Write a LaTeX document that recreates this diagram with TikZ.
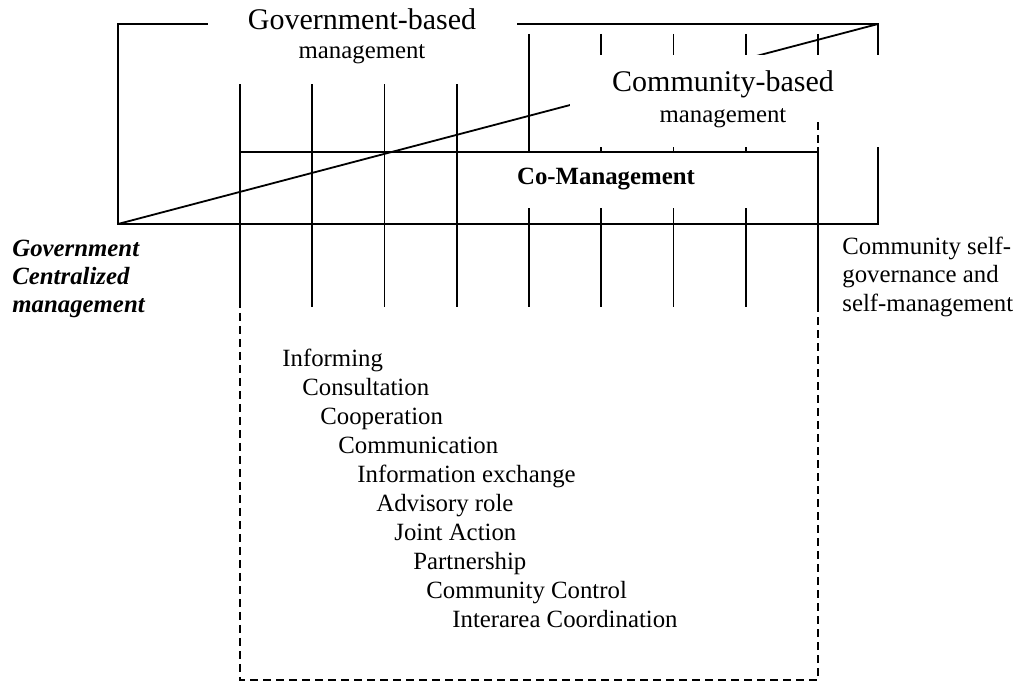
\documentclass[tikz,border=0pt]{standalone}
\usepackage{fontspec}
\setmainfont{Liberation Serif}
\usepackage{tikz}

\begin{document}
\begin{tikzpicture}[x=0.5pt, y=-0.5pt,
    gridline/.style={line width=0.9pt},
    rangeline/.style={line width=0.8pt, dash pattern=on 4pt off 2.5pt},
    maskbox/.style={fill=white},
    plainlbl/.style={inner sep=0pt, font=\fontsize{12.4}{14}\selectfont},
    biglbl/.style={inner sep=0pt, font=\fontsize{15}{18}\selectfont}]
        \useasboundingbox (0,0) rectangle (1018,683);

        % Frame and diagonal
        \coordinate (bl) at (118,224);
        \coordinate (tr) at (878,24);
        \draw[gridline] (bl) rectangle (tr);
        \draw[gridline] (bl) -- (tr);

        % Vertical bars
        \foreach \i in {0,...,8}
            \draw[gridline] ({240+72.25*\i},34) -- ({240+72.25*\i},307);

        % Masks behind the headings
        \fill[maskbox] (208,4) rectangle (517,84);
        \fill[maskbox] (570,55) rectangle (880,147);
        \fill[maskbox] (497,153) rectangle (800,208);

        % Co-management band and dashed range
        \draw[gridline] (240,152) rectangle (818,224);
        \draw[rangeline] (240,118) -- (240,680) -- (818,680) -- (818,118);

        % Headings
        \node[biglbl, anchor=base] (govhead) at (362,30) {Government-based};
        \node[plainlbl, anchor=base] (govsub) at (362,59) {management};
        \node[biglbl, anchor=base] (comhead) at (723,92) {Community-based};
        \node[plainlbl, anchor=base] (comsub) at (723,123) {management};
        \node[plainlbl, anchor=base] (coman) at (606,185) {\textbf{Co-Management}};

        % Side labels
        \node[plainlbl, anchor=base west] (gov1) at (12,257) {\textbf{\textit{Government}}};
        \node[plainlbl, anchor=base west] (gov2) at (12,285) {\textbf{\textit{Centralized}}};
        \node[plainlbl, anchor=base west] (gov3) at (12,313) {\textbf{\textit{management}}};
        \node[plainlbl, anchor=base west] (self1) at (842,255) {Community self-};
        \node[plainlbl, anchor=base west] (self2) at (842,283) {governance and};
        \node[plainlbl, anchor=base west] (self3) at (842,312) {self-management};

        % Stages
        \foreach \x/\y/\t [count=\i] in {282/367/Informing, 302/396/Consultation,
            320/425/Cooperation, 338/454/Communication, 357/483/Information exchange,
            376/512/Advisory role, 394/541/Joint Action, 413/570/Partnership,
            426/599/Community Control, 452/628/Interarea Coordination}
            \node[plainlbl, anchor=base west] (stage\i) at (\x,\y) {\t};
    \end{tikzpicture}
\end{document}
